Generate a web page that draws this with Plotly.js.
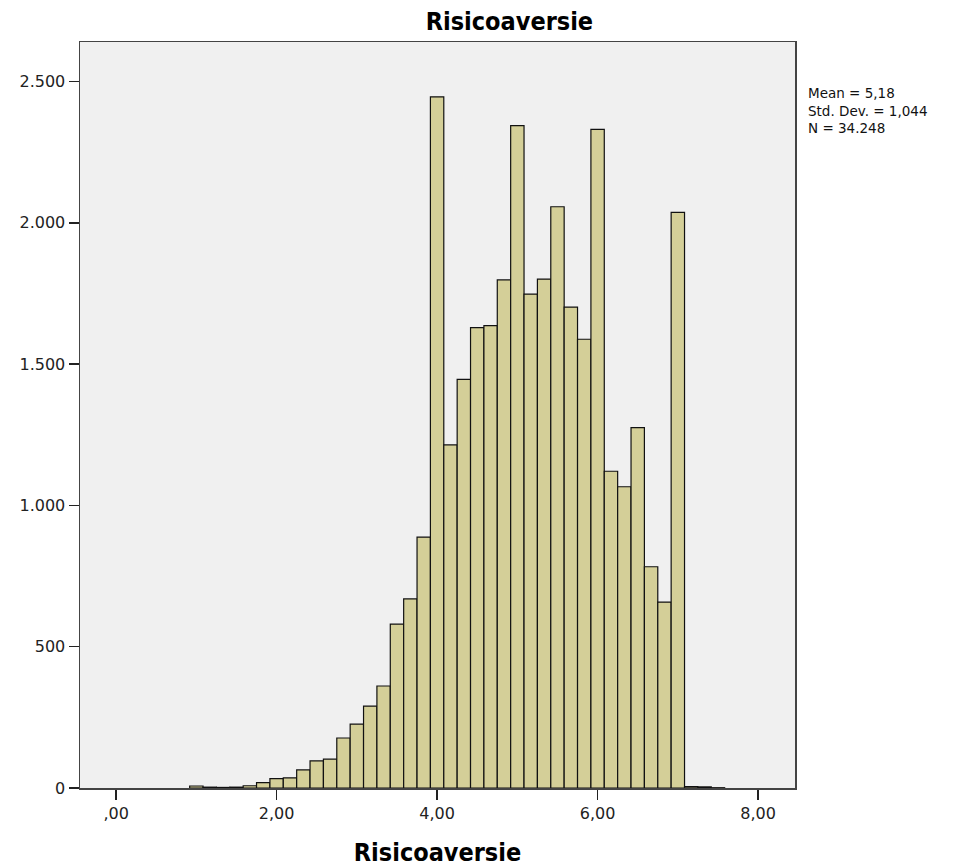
<!DOCTYPE html>
<html>
<head>
<meta charset="utf-8">
<script src="https://cdn.plot.ly/plotly-3.0.1.min.js"></script>
<style>html,body{margin:0;padding:0;background:#fff;}#chart{width:974px;height:868px;}</style>
</head>
<body>
<div id="chart"></div>
<script>
// Bin centres (width 1/6) and counts
const binCenters = [1, 7/6, 8/6, 9/6, 10/6, 11/6, 2, 13/6, 14/6, 15/6, 16/6, 17/6,
  3, 19/6, 20/6, 21/6, 22/6, 23/6, 4, 25/6, 26/6, 27/6, 28/6, 29/6,
  5, 31/6, 32/6, 33/6, 34/6, 35/6, 6, 37/6, 38/6, 39/6, 40/6, 41/6,
  7, 43/6, 44/6, 45/6];
const counts = [7, 3, 2, 3, 8, 19, 33, 36, 64, 96, 102, 177,
  226, 290, 361, 580, 669, 888, 2446, 1214, 1446, 1629, 1636, 1798,
  2344, 1748, 1801, 2057, 1702, 1588, 2331, 1121, 1066, 1275, 783, 658,
  2037, 5, 4, 1];
const xTickVals = [0, 2, 4, 6, 8];
const xTickText = [",00", "2,00", "4,00", "6,00", "8,00"];
const yTickVals = [0, 500, 1000, 1500, 2000, 2500];
const yTickText = ["0", "500", "1.000", "1.500", "2.000", "2.500"];
const statsLines = ["Mean = 5,18", "Std. Dev. = 1,044", "N = 34.248"];
const titleText = "Risicoaversie";

const trace = {
  type: "bar",
  x: binCenters,
  y: counts,
  width: 1/6,
  marker: {color: "#d4cf98", line: {color: "#111", width: 1.2}},
  hoverinfo: "x+y"
};

const tickFont = {family: "DejaVu Sans, sans-serif", size: 16, color: "#222"};
const titleFont = {family: "Liberation Sans Narrow, DejaVu Sans Condensed, sans-serif", size: 25, color: "#000", weight: "bold"};

const layout = {
  width: 974, height: 868,
  margin: {l: 80, r: 179, t: 42, b: 80, pad: 0},
  paper_bgcolor: "#ffffff",
  plot_bgcolor: "#f0f0f0",
  showlegend: false,
  bargap: 0,
  title: {text: "<b>" + titleText + "</b>", font: titleFont, x: 0.523, xanchor: "center", y: 0.975, yanchor: "middle"},
  xaxis: {
    range: [-0.45, 8.46],
    tickvals: xTickVals, ticktext: xTickText,
    ticks: "outside", ticklen: 10, tickwidth: 1.5, tickcolor: "#222",
    showgrid: false, zeroline: false,
    showline: true, mirror: true, linecolor: "#444", linewidth: 1.5,
    tickfont: tickFont,
    title: {text: "<b>" + titleText + "</b>", font: titleFont, standoff: 22}
  },
  yaxis: {
    range: [0, 2640],
    tickvals: yTickVals, ticktext: yTickText,
    ticks: "outside", ticklen: 10, tickwidth: 1.5, tickcolor: "#222",
    showgrid: false, zeroline: false,
    showline: true, mirror: true, linecolor: "#444", linewidth: 1.5,
    tickfont: tickFont
  },
  annotations: [{
    xref: "paper", yref: "paper",
    x: 1.0155, y: (788 - 83) / 746, xanchor: "left", yanchor: "top",
    align: "left", showarrow: false,
    text: statsLines.join("<br>"),
    font: {family: "DejaVu Sans, sans-serif", size: 13.5, color: "#111"}
  }]
};

Plotly.newPlot("chart", [trace], layout, {displayModeBar: false, staticPlot: true});
</script>
</body>
</html>
